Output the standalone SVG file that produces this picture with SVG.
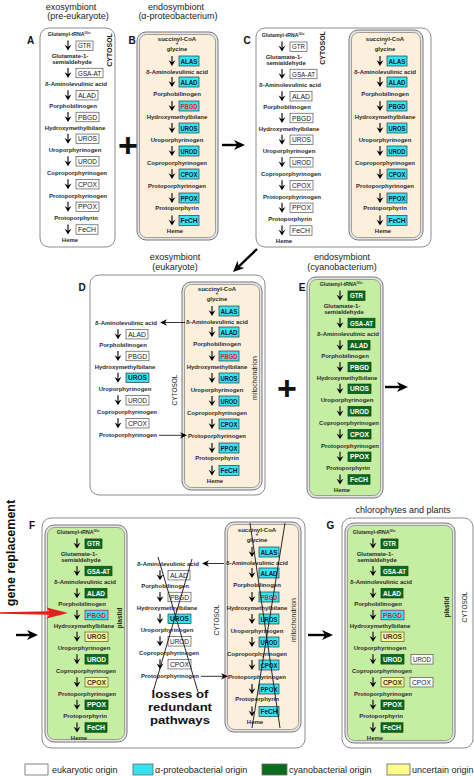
<svg xmlns="http://www.w3.org/2000/svg" width="474" height="776" viewBox="0 0 474 776">
<style>
text{font-family:"Liberation Sans",Arial,sans-serif}
.s{font-size:6px;font-weight:bold;fill:#2b2b2b;text-anchor:middle}
.g5{font-size:5.2px}
.sup{font-size:3.4px}
.pl{font-size:5px}
.e{font-size:7.5px;text-anchor:middle;fill:#1a1a1a}
.W .k{fill:#fff;stroke:#555;stroke-width:.7}
.W .e{fill:#1a1a1a}
.C .k{fill:#35e3ee;stroke:#2a3a40;stroke-width:.7}
.C .e{font-weight:bold;fill:#0c1838}
.G .k{fill:#0b6b20;stroke:#05400f;stroke-width:.7}
.G .e{font-weight:bold;fill:#fff}
rect.k.kc{fill:#35e3ee;stroke:#2a3a40}
text.e.ec{font-weight:bold;fill:#0c1838}
rect.k.kr{fill:#35e3ee;stroke:#b03070;stroke-width:.9}
text.e.er{font-weight:bold;fill:#e31e24}
rect.k.ky{fill:#fcfc8a;stroke:#555}
text.e.ey{font-weight:bold;fill:#333}
rect.k.kw{fill:#fff;stroke:#555}
text.e.ew{font-weight:normal;fill:#1a1a1a}
.panel{fill:#fff;stroke:#8c8c8c;stroke-width:1}
.dbl{fill:#e6e6e6;stroke:#777;stroke-width:1}
.beige{fill:#fcefdc;stroke:#8a8a8a;stroke-width:.8}
.green{fill:#c6eea2;stroke:#8a8a8a;stroke-width:.8}
.title{font-size:9px;text-anchor:middle;fill:#222}
.lbl{font-size:10px;font-weight:bold;text-anchor:middle;fill:#111}
.v{font-size:6.5px;text-anchor:middle;fill:#222}
.vb{font-weight:bold;font-size:7px}
.mt{font-size:7px}
.pd{font-weight:bold;font-size:6.5px}
.leg{font-size:9px;fill:#222}
.big{font-size:11.5px;font-weight:bold;text-anchor:middle;fill:#111}
.gr{font-size:12.5px;font-weight:bold;text-anchor:middle;fill:#111}
.plus{font-size:34px;font-weight:bold;text-anchor:middle;fill:#111}
.ln{stroke:#000;stroke-width:2.4;fill:none}
.lt{stroke:#000;stroke-width:.8;fill:none}
.x{stroke:#111;stroke-width:.9;fill:none}
.lb{stroke:#666;stroke-width:.8}
</style>
<defs>
<g id="va"><path d="M0,0V6" stroke="#000" stroke-width="1.1"/><path d="M-3.4,4.2L0,10L3.4,4.2L0,6.2Z" fill="#000"/></g>
<marker id="bh" viewBox="0 0 12 12" refX="8" refY="6" markerWidth="11" markerHeight="11" markerUnits="userSpaceOnUse" orient="auto"><path d="M0,0.5L12,6L0,11.5L3.5,6Z" fill="#000"/></marker>
<marker id="sh" viewBox="0 0 10 10" refX="7" refY="5" markerWidth="7" markerHeight="7" markerUnits="userSpaceOnUse" orient="auto"><path d="M0,0.5L10,5L0,9.5L3,5Z" fill="#000"/></marker>
</defs>

<g id="panel-A">
<rect class="panel" x="40" y="28" width="75" height="219" rx="9"/>
<text class="lbl" x="30.5" y="44">A</text>
<text class="title" x="71" y="9.5">exosymbiont</text>
<text class="title" x="78" y="19">(pre-eukaryote)</text>
<text class="v vb" transform="translate(111.5,50) rotate(-90)">CYTOSOL</text>
<g class="W">
<text class="s g5" x="69" y="36">Glutamyl-tRNA<tspan class="sup" dy="-2.4">Glu</tspan></text>
<use href="#va" x="68" y="40.5"/><rect class="k" x="76" y="41" width="17" height="9.5"/><text class="e" x="84.5" y="48.4" textLength="13" lengthAdjust="spacingAndGlyphs">GTR</text>
<text class="s" x="70" y="57.5">Glutamate-1-</text>
<text class="s" x="72" y="64">semialdehyde</text>
<use href="#va" x="68" y="68"/><rect class="k" x="76" y="68.25" width="27" height="9.5"/><text class="e" x="89.5" y="75.65" textLength="23" lengthAdjust="spacingAndGlyphs">GSA-AT</text>
<text class="s" x="76" y="86">δ-Aminolevulinic acid</text>
<use href="#va" x="68" y="90.2"/><rect class="k" x="76" y="90.45" width="22" height="9.5"/><text class="e" x="87" y="97.85" textLength="18" lengthAdjust="spacingAndGlyphs">ALAD</text>
<text class="s" x="73" y="108">Porphobilinogen</text>
<use href="#va" x="68" y="112"/><rect class="k" x="76" y="112.25" width="23" height="9.5"/><text class="e" x="87.5" y="119.65" textLength="19" lengthAdjust="spacingAndGlyphs">PBGD</text>
<text class="s" x="75" y="129.5">Hydroxymethylbilane</text>
<use href="#va" x="68" y="133.8"/><rect class="k" x="76" y="134.05" width="23" height="9.5"/><text class="e" x="87.5" y="141.45" textLength="19" lengthAdjust="spacingAndGlyphs">UROS</text>
<text class="s" x="75" y="152">Uroporphyrinogen</text>
<use href="#va" x="68" y="156.3"/><rect class="k" x="76" y="156.55" width="23" height="9.5"/><text class="e" x="87.5" y="163.95" textLength="19" lengthAdjust="spacingAndGlyphs">UROD</text>
<text class="s" x="77" y="174.5">Coproporphyrinogen</text>
<use href="#va" x="68" y="179.2"/><rect class="k" x="76" y="179.45" width="23" height="9.5"/><text class="e" x="87.5" y="186.85" textLength="19" lengthAdjust="spacingAndGlyphs">CPOX</text>
<text class="s" x="78" y="197.5">Protoporphyrinogen</text>
<use href="#va" x="68" y="201.8"/><rect class="k" x="76" y="202.05" width="23" height="9.5"/><text class="e" x="87.5" y="209.45" textLength="19" lengthAdjust="spacingAndGlyphs">PPOX</text>
<text class="s" x="76" y="219.5">Protoporphyrin</text>
<use href="#va" x="68" y="224.5"/><rect class="k" x="76" y="224.75" width="22" height="9.5"/><text class="e" x="87" y="232.15" textLength="18" lengthAdjust="spacingAndGlyphs">FeCH</text>
<text class="s" x="70" y="242">Heme</text>
</g>
</g>

<g id="panel-B">
<rect class="dbl" x="137" y="32" width="81" height="208" rx="9"/>
<rect class="beige" x="139.5" y="34.5" width="76" height="203" rx="7"/>
<text class="lbl" x="132" y="44">B</text>
<text class="title" x="176" y="9.5">endosymbiont</text>
<text class="title" x="178" y="19">(α-proteobacterium)</text>
<g class="C">
<text class="s" x="177" y="40.5">succinyl-CoA</text>
<text class="s pl" x="177" y="45.3">+</text>
<text class="s" x="177" y="50.5">glycine</text>
<use href="#va" x="172" y="56"/><rect class="k" x="179" y="56" width="20" height="10"/><text class="e" x="189" y="63.7" textLength="17" lengthAdjust="spacingAndGlyphs">ALAS</text>
<text class="s" x="177" y="74">δ-Aminolevulinic acid</text>
<use href="#va" x="172" y="77"/><rect class="k" x="179" y="77" width="20" height="10"/><text class="e" x="189" y="84.7" textLength="17" lengthAdjust="spacingAndGlyphs">ALAD</text>
<text class="s" x="177" y="96">Porphobilinogen</text>
<use href="#va" x="172" y="101"/><rect class="k" x="179" y="101" width="20" height="10"/><text class="e er" x="189" y="108.7" textLength="17" lengthAdjust="spacingAndGlyphs">PBGD</text>
<text class="s" x="177" y="119">Hydroxymethylbilane</text>
<use href="#va" x="172" y="123"/><rect class="k" x="179" y="123" width="20" height="10"/><text class="e" x="189" y="130.7" textLength="17" lengthAdjust="spacingAndGlyphs">UROS</text>
<text class="s" x="177" y="141.5">Uroporphyrinogen</text>
<use href="#va" x="172" y="146"/><rect class="k" x="179" y="146" width="20" height="10"/><text class="e" x="189" y="153.7" textLength="17" lengthAdjust="spacingAndGlyphs">UROD</text>
<text class="s" x="177" y="165">Coproporphyrinogen</text>
<use href="#va" x="172" y="169"/><rect class="k" x="179" y="169" width="20" height="10"/><text class="e" x="189" y="176.7" textLength="17" lengthAdjust="spacingAndGlyphs">CPOX</text>
<text class="s" x="177" y="188">Protoporphyrinogen</text>
<use href="#va" x="172" y="193"/><rect class="k" x="179" y="193" width="20" height="10"/><text class="e" x="189" y="200.7" textLength="17" lengthAdjust="spacingAndGlyphs">PPOX</text>
<text class="s" x="177" y="210">Protoporphyrin</text>
<use href="#va" x="172" y="215.5"/><rect class="k" x="179" y="215.5" width="20" height="10"/><text class="e" x="189" y="223.2" textLength="17" lengthAdjust="spacingAndGlyphs">FeCH</text>
<text class="s" x="175" y="233">Heme</text>
</g>
</g>

<g id="panel-C">
<rect class="panel" x="256" y="28" width="175" height="219" rx="9"/>
<text class="lbl" x="247" y="44">C</text>
<text class="v vb" transform="translate(324.5,48) rotate(-90)">CYTOSOL</text>
<g class="W" transform="translate(214,1)">
<text class="s g5" x="69" y="36">Glutamyl-tRNA<tspan class="sup" dy="-2.4">Glu</tspan></text>
<use href="#va" x="68" y="40.5"/><rect class="k" x="76" y="41" width="17" height="9.5"/><text class="e" x="84.5" y="48.4" textLength="13" lengthAdjust="spacingAndGlyphs">GTR</text>
<text class="s" x="70" y="57.5">Glutamate-1-</text>
<text class="s" x="72" y="64">semialdehyde</text>
<use href="#va" x="68" y="68"/><rect class="k" x="76" y="68.25" width="27" height="9.5"/><text class="e" x="89.5" y="75.65" textLength="23" lengthAdjust="spacingAndGlyphs">GSA-AT</text>
<text class="s" x="76" y="86">δ-Aminolevulinic acid</text>
<use href="#va" x="68" y="90.2"/><rect class="k" x="76" y="90.45" width="22" height="9.5"/><text class="e" x="87" y="97.85" textLength="18" lengthAdjust="spacingAndGlyphs">ALAD</text>
<text class="s" x="73" y="108">Porphobilinogen</text>
<use href="#va" x="68" y="112"/><rect class="k" x="76" y="112.25" width="23" height="9.5"/><text class="e" x="87.5" y="119.65" textLength="19" lengthAdjust="spacingAndGlyphs">PBGD</text>
<text class="s" x="75" y="129.5">Hydroxymethylbilane</text>
<use href="#va" x="68" y="133.8"/><rect class="k" x="76" y="134.05" width="23" height="9.5"/><text class="e" x="87.5" y="141.45" textLength="19" lengthAdjust="spacingAndGlyphs">UROS</text>
<text class="s" x="75" y="152">Uroporphyrinogen</text>
<use href="#va" x="68" y="156.3"/><rect class="k" x="76" y="156.55" width="23" height="9.5"/><text class="e" x="87.5" y="163.95" textLength="19" lengthAdjust="spacingAndGlyphs">UROD</text>
<text class="s" x="77" y="174.5">Coproporphyrinogen</text>
<use href="#va" x="68" y="179.2"/><rect class="k" x="76" y="179.45" width="23" height="9.5"/><text class="e" x="87.5" y="186.85" textLength="19" lengthAdjust="spacingAndGlyphs">CPOX</text>
<text class="s" x="78" y="197.5">Protoporphyrinogen</text>
<use href="#va" x="68" y="201.8"/><rect class="k" x="76" y="202.05" width="23" height="9.5"/><text class="e" x="87.5" y="209.45" textLength="19" lengthAdjust="spacingAndGlyphs">PPOX</text>
<text class="s" x="76" y="219.5">Protoporphyrin</text>
<use href="#va" x="68" y="224.5"/><rect class="k" x="76" y="224.75" width="22" height="9.5"/><text class="e" x="87" y="232.15" textLength="18" lengthAdjust="spacingAndGlyphs">FeCH</text>
<text class="s" x="70" y="242">Heme</text>
</g>
<rect class="dbl" x="349" y="30" width="74" height="210" rx="9"/>
<rect class="beige" x="351.5" y="32.5" width="69" height="205" rx="7"/>
<g class="C" transform="translate(208,0)">
<text class="s" x="177" y="40.5">succinyl-CoA</text>
<text class="s pl" x="177" y="45.3">+</text>
<text class="s" x="177" y="50.5">glycine</text>
<use href="#va" x="172" y="56"/><rect class="k" x="179" y="56" width="20" height="10"/><text class="e" x="189" y="63.7" textLength="17" lengthAdjust="spacingAndGlyphs">ALAS</text>
<text class="s" x="177" y="74">δ-Aminolevulinic acid</text>
<use href="#va" x="172" y="77"/><rect class="k" x="179" y="77" width="20" height="10"/><text class="e" x="189" y="84.7" textLength="17" lengthAdjust="spacingAndGlyphs">ALAD</text>
<text class="s" x="177" y="96">Porphobilinogen</text>
<use href="#va" x="172" y="101"/><rect class="k" x="179" y="101" width="20" height="10"/><text class="e" x="189" y="108.7" textLength="17" lengthAdjust="spacingAndGlyphs">PBGD</text>
<text class="s" x="177" y="119">Hydroxymethylbilane</text>
<use href="#va" x="172" y="123"/><rect class="k" x="179" y="123" width="20" height="10"/><text class="e" x="189" y="130.7" textLength="17" lengthAdjust="spacingAndGlyphs">UROS</text>
<text class="s" x="177" y="141.5">Uroporphyrinogen</text>
<use href="#va" x="172" y="146"/><rect class="k" x="179" y="146" width="20" height="10"/><text class="e" x="189" y="153.7" textLength="17" lengthAdjust="spacingAndGlyphs">UROD</text>
<text class="s" x="177" y="165">Coproporphyrinogen</text>
<use href="#va" x="172" y="169"/><rect class="k" x="179" y="169" width="20" height="10"/><text class="e" x="189" y="176.7" textLength="17" lengthAdjust="spacingAndGlyphs">CPOX</text>
<text class="s" x="177" y="188">Protoporphyrinogen</text>
<use href="#va" x="172" y="193"/><rect class="k" x="179" y="193" width="20" height="10"/><text class="e" x="189" y="200.7" textLength="17" lengthAdjust="spacingAndGlyphs">PPOX</text>
<text class="s" x="177" y="210">Protoporphyrin</text>
<use href="#va" x="172" y="215.5"/><rect class="k" x="179" y="215.5" width="20" height="10"/><text class="e" x="189" y="223.2" textLength="17" lengthAdjust="spacingAndGlyphs">FeCH</text>
<text class="s" x="175" y="233">Heme</text>
</g>
</g>

<g id="panel-D">
<rect class="panel" x="90" y="275" width="175" height="220" rx="9"/>
<text class="lbl" x="82" y="291">D</text>
<text class="title" x="175" y="260">exosymbiont</text>
<text class="title" x="175" y="270">(eukaryote)</text>
<text class="v" transform="translate(177.3,390) rotate(-90)">CYTOSOL</text>
<g class="W" transform="translate(50,239)">
<text class="s" x="76" y="86">δ-Aminolevulinic acid</text>
<use href="#va" x="68" y="90.2"/><rect class="k" x="76" y="90.45" width="22" height="9.5"/><text class="e" x="87" y="97.85" textLength="18" lengthAdjust="spacingAndGlyphs">ALAD</text>
<text class="s" x="73" y="108">Porphobilinogen</text>
<use href="#va" x="68" y="112"/><rect class="k" x="76" y="112.25" width="23" height="9.5"/><text class="e" x="87.5" y="119.65" textLength="19" lengthAdjust="spacingAndGlyphs">PBGD</text>
<text class="s" x="75" y="129.5">Hydroxymethylbilane</text>
<use href="#va" x="68" y="133.8"/><rect class="k kc" x="76" y="134.05" width="23" height="9.5"/><text class="e ec" x="87.5" y="141.45" textLength="19" lengthAdjust="spacingAndGlyphs">UROS</text>
<text class="s" x="75" y="152">Uroporphyrinogen</text>
<use href="#va" x="68" y="156.3"/><rect class="k" x="76" y="156.55" width="23" height="9.5"/><text class="e" x="87.5" y="163.95" textLength="19" lengthAdjust="spacingAndGlyphs">UROD</text>
<text class="s" x="77" y="174.5">Coproporphyrinogen</text>
<use href="#va" x="68" y="179.2"/><rect class="k" x="76" y="179.45" width="23" height="9.5"/><text class="e" x="87.5" y="186.85" textLength="19" lengthAdjust="spacingAndGlyphs">CPOX</text>
<text class="s" x="78" y="197.5">Protoporphyrinogen</text>
</g>
<rect class="dbl" x="182" y="282" width="80" height="208" rx="9"/>
<rect class="beige" x="184.5" y="284.5" width="75" height="203" rx="7"/>
<text class="v mt" transform="translate(257,378) rotate(-90)">mitochondrion</text>
<g class="C" transform="translate(40,250)">
<text class="s" x="177" y="40.5">succinyl-CoA</text>
<text class="s pl" x="177" y="45.3">+</text>
<text class="s" x="177" y="50.5">glycine</text>
<use href="#va" x="172" y="56"/><rect class="k" x="179" y="56" width="20" height="10"/><text class="e" x="189" y="63.7" textLength="17" lengthAdjust="spacingAndGlyphs">ALAS</text>
<text class="s" x="177" y="74">δ-Aminolevulinic acid</text>
<use href="#va" x="172" y="77"/><rect class="k" x="179" y="77" width="20" height="10"/><text class="e" x="189" y="84.7" textLength="17" lengthAdjust="spacingAndGlyphs">ALAD</text>
<text class="s" x="177" y="96">Porphobilinogen</text>
<use href="#va" x="172" y="101"/><rect class="k" x="179" y="101" width="20" height="10"/><text class="e er" x="189" y="108.7" textLength="17" lengthAdjust="spacingAndGlyphs">PBGD</text>
<text class="s" x="177" y="119">Hydroxymethylbilane</text>
<use href="#va" x="172" y="123"/><rect class="k" x="179" y="123" width="20" height="10"/><text class="e" x="189" y="130.7" textLength="17" lengthAdjust="spacingAndGlyphs">UROS</text>
<text class="s" x="177" y="141.5">Uroporphyrinogen</text>
<use href="#va" x="172" y="146"/><rect class="k" x="179" y="146" width="20" height="10"/><text class="e" x="189" y="153.7" textLength="17" lengthAdjust="spacingAndGlyphs">UROD</text>
<text class="s" x="177" y="165">Coproporphyrinogen</text>
<use href="#va" x="172" y="169"/><rect class="k" x="179" y="169" width="20" height="10"/><text class="e" x="189" y="176.7" textLength="17" lengthAdjust="spacingAndGlyphs">CPOX</text>
<text class="s" x="177" y="188">Protoporphyrinogen</text>
<use href="#va" x="172" y="193"/><rect class="k" x="179" y="193" width="20" height="10"/><text class="e" x="189" y="200.7" textLength="17" lengthAdjust="spacingAndGlyphs">PPOX</text>
<text class="s" x="177" y="210">Protoporphyrin</text>
<use href="#va" x="172" y="215.5"/><rect class="k" x="179" y="215.5" width="20" height="10"/><text class="e" x="189" y="223.2" textLength="17" lengthAdjust="spacingAndGlyphs">FeCH</text>
<text class="s" x="175" y="233">Heme</text>
</g>
</g>

<g id="panel-E">
<rect class="dbl" x="307" y="277" width="76" height="221" rx="9"/>
<rect class="green" x="309.5" y="279.5" width="71" height="216" rx="7"/>
<text class="lbl" x="302" y="291">E</text>
<text class="title" x="342" y="260">endosymbiont</text>
<text class="title" x="342" y="270">(cyanobacterium)</text>
<g class="G" transform="translate(272,250)">
<text class="s g5" x="69" y="36">Glutamyl-tRNA<tspan class="sup" dy="-2.4">Glu</tspan></text>
<use href="#va" x="68" y="40.5"/><rect class="k" x="76" y="41" width="17" height="9.5"/><text class="e" x="84.5" y="48.4" textLength="13" lengthAdjust="spacingAndGlyphs">GTR</text>
<text class="s" x="70" y="57.5">Glutamate-1-</text>
<text class="s" x="72" y="64">semialdehyde</text>
<use href="#va" x="68" y="68"/><rect class="k" x="76" y="68.25" width="27" height="9.5"/><text class="e" x="89.5" y="75.65" textLength="23" lengthAdjust="spacingAndGlyphs">GSA-AT</text>
<text class="s" x="76" y="86">δ-Aminolevulinic acid</text>
<use href="#va" x="68" y="90.2"/><rect class="k" x="76" y="90.45" width="22" height="9.5"/><text class="e" x="87" y="97.85" textLength="18" lengthAdjust="spacingAndGlyphs">ALAD</text>
<text class="s" x="73" y="108">Porphobilinogen</text>
<use href="#va" x="68" y="112"/><rect class="k" x="76" y="112.25" width="23" height="9.5"/><text class="e" x="87.5" y="119.65" textLength="19" lengthAdjust="spacingAndGlyphs">PBGD</text>
<text class="s" x="75" y="129.5">Hydroxymethylbilane</text>
<use href="#va" x="68" y="133.8"/><rect class="k" x="76" y="134.05" width="23" height="9.5"/><text class="e" x="87.5" y="141.45" textLength="19" lengthAdjust="spacingAndGlyphs">UROS</text>
<text class="s" x="75" y="152">Uroporphyrinogen</text>
<use href="#va" x="68" y="156.3"/><rect class="k" x="76" y="156.55" width="23" height="9.5"/><text class="e" x="87.5" y="163.95" textLength="19" lengthAdjust="spacingAndGlyphs">UROD</text>
<text class="s" x="77" y="174.5">Coproporphyrinogen</text>
<use href="#va" x="68" y="179.2"/><rect class="k" x="76" y="179.45" width="23" height="9.5"/><text class="e" x="87.5" y="186.85" textLength="19" lengthAdjust="spacingAndGlyphs">CPOX</text>
<text class="s" x="78" y="197.5">Protoporphyrinogen</text>
<use href="#va" x="68" y="201.8"/><rect class="k" x="76" y="202.05" width="23" height="9.5"/><text class="e" x="87.5" y="209.45" textLength="19" lengthAdjust="spacingAndGlyphs">PPOX</text>
<text class="s" x="76" y="219.5">Protoporphyrin</text>
<use href="#va" x="68" y="224.5"/><rect class="k" x="76" y="224.75" width="22" height="9.5"/><text class="e" x="87" y="232.15" textLength="18" lengthAdjust="spacingAndGlyphs">FeCH</text>
<text class="s" x="70" y="242">Heme</text>
</g>
</g>

<g id="panel-F">
<rect class="panel" x="42" y="518" width="263" height="230" rx="9"/>
<text class="lbl" x="32" y="529">F</text>
<rect class="dbl" x="45" y="525" width="82" height="217" rx="9"/>
<rect class="green" x="47.5" y="527.5" width="77" height="212" rx="7"/>
<text class="v pd" transform="translate(122.3,618) rotate(-90)">plastid</text>
<g class="G" transform="translate(9,498)">
<text class="s g5" x="69" y="36">Glutamyl-tRNA<tspan class="sup" dy="-2.4">Glu</tspan></text>
<use href="#va" x="68" y="40.5"/><rect class="k" x="76" y="41" width="17" height="9.5"/><text class="e" x="84.5" y="48.4" textLength="13" lengthAdjust="spacingAndGlyphs">GTR</text>
<text class="s" x="70" y="57.5">Glutamate-1-</text>
<text class="s" x="72" y="64">semialdehyde</text>
<use href="#va" x="68" y="68"/><rect class="k" x="76" y="68.25" width="27" height="9.5"/><text class="e" x="89.5" y="75.65" textLength="23" lengthAdjust="spacingAndGlyphs">GSA-AT</text>
<text class="s" x="76" y="86">δ-Aminolevulinic acid</text>
<use href="#va" x="68" y="90.2"/><rect class="k" x="76" y="90.45" width="22" height="9.5"/><text class="e" x="87" y="97.85" textLength="18" lengthAdjust="spacingAndGlyphs">ALAD</text>
<text class="s" x="73" y="108">Porphobilinogen</text>
<use href="#va" x="68" y="112"/><rect class="k kr" x="76" y="112.25" width="23" height="9.5"/><text class="e er" x="87.5" y="119.65" textLength="19" lengthAdjust="spacingAndGlyphs">PBGD</text>
<text class="s" x="75" y="129.5">Hydroxymethylbilane</text>
<use href="#va" x="68" y="133.8"/><rect class="k ky" x="76" y="134.05" width="23" height="9.5"/><text class="e ey" x="87.5" y="141.45" textLength="19" lengthAdjust="spacingAndGlyphs">UROS</text>
<text class="s" x="75" y="152">Uroporphyrinogen</text>
<use href="#va" x="68" y="156.3"/><rect class="k" x="76" y="156.55" width="23" height="9.5"/><text class="e" x="87.5" y="163.95" textLength="19" lengthAdjust="spacingAndGlyphs">UROD</text>
<text class="s" x="77" y="174.5">Coproporphyrinogen</text>
<use href="#va" x="68" y="179.2"/><rect class="k ky" x="76" y="179.45" width="23" height="9.5"/><text class="e ey" x="87.5" y="186.85" textLength="19" lengthAdjust="spacingAndGlyphs">CPOX</text>
<text class="s" x="78" y="197.5">Protoporphyrinogen</text>
<use href="#va" x="68" y="201.8"/><rect class="k" x="76" y="202.05" width="23" height="9.5"/><text class="e" x="87.5" y="209.45" textLength="19" lengthAdjust="spacingAndGlyphs">PPOX</text>
<text class="s" x="76" y="219.5">Protoporphyrin</text>
<use href="#va" x="68" y="224.5"/><rect class="k" x="76" y="224.75" width="22" height="9.5"/><text class="e" x="87" y="232.15" textLength="18" lengthAdjust="spacingAndGlyphs">FeCH</text>
<text class="s" x="70" y="242">Heme</text>
</g>
<text class="v" transform="translate(219.3,620) rotate(-90)">CYTOSOL</text>
<g class="W" transform="translate(92,480)">
<text class="s" x="76" y="86">δ-Aminolevulinic acid</text>
<use href="#va" x="68" y="90.2"/><rect class="k" x="76" y="90.45" width="22" height="9.5"/><text class="e" x="87" y="97.85" textLength="18" lengthAdjust="spacingAndGlyphs">ALAD</text>
<text class="s" x="73" y="108">Porphobilinogen</text>
<use href="#va" x="68" y="112"/><rect class="k" x="76" y="112.25" width="23" height="9.5"/><text class="e" x="87.5" y="119.65" textLength="19" lengthAdjust="spacingAndGlyphs">PBGD</text>
<text class="s" x="75" y="129.5">Hydroxymethylbilane</text>
<use href="#va" x="68" y="133.8"/><rect class="k kc" x="76" y="134.05" width="23" height="9.5"/><text class="e ec" x="87.5" y="141.45" textLength="19" lengthAdjust="spacingAndGlyphs">UROS</text>
<text class="s" x="75" y="152">Uroporphyrinogen</text>
<use href="#va" x="68" y="156.3"/><rect class="k" x="76" y="156.55" width="23" height="9.5"/><text class="e" x="87.5" y="163.95" textLength="19" lengthAdjust="spacingAndGlyphs">UROD</text>
<text class="s" x="77" y="174.5">Coproporphyrinogen</text>
<use href="#va" x="68" y="179.2"/><rect class="k" x="76" y="179.45" width="23" height="9.5"/><text class="e" x="87.5" y="186.85" textLength="19" lengthAdjust="spacingAndGlyphs">CPOX</text>
<text class="s" x="78" y="197.5">Protoporphyrinogen</text>
</g>
<path class="x" d="M158,557L198,692M192,559L153,692"/>
<text class="big" x="180" y="698" textLength="57" lengthAdjust="spacingAndGlyphs">losses of</text>
<text class="big" x="180" y="711.2" textLength="64" lengthAdjust="spacingAndGlyphs">redundant</text>
<text class="big" x="180" y="724.4" textLength="60" lengthAdjust="spacingAndGlyphs">pathways</text>
<rect class="dbl" x="225" y="522" width="76" height="210" rx="9"/>
<rect class="beige" x="227.5" y="524.5" width="71" height="205" rx="7"/>
<text class="v mt" transform="translate(296,620) rotate(-90)">mitochondrion</text>
<g class="C" transform="translate(80,491)">
<text class="s" x="177" y="40.5">succinyl-CoA</text>
<text class="s pl" x="177" y="45.3">+</text>
<text class="s" x="177" y="50.5">glycine</text>
<use href="#va" x="172" y="56"/><rect class="k" x="179" y="56" width="20" height="10"/><text class="e" x="189" y="63.7" textLength="17" lengthAdjust="spacingAndGlyphs">ALAS</text>
<text class="s" x="177" y="74">δ-Aminolevulinic acid</text>
<use href="#va" x="172" y="77"/><rect class="k" x="179" y="77" width="20" height="10"/><text class="e" x="189" y="84.7" textLength="17" lengthAdjust="spacingAndGlyphs">ALAD</text>
<text class="s" x="177" y="96">Porphobilinogen</text>
<use href="#va" x="172" y="101"/><rect class="k" x="179" y="101" width="20" height="10"/><text class="e er" x="189" y="108.7" textLength="17" lengthAdjust="spacingAndGlyphs">PBGD</text>
<text class="s" x="177" y="119">Hydroxymethylbilane</text>
<use href="#va" x="172" y="123"/><rect class="k" x="179" y="123" width="20" height="10"/><text class="e" x="189" y="130.7" textLength="17" lengthAdjust="spacingAndGlyphs">UROS</text>
<text class="s" x="177" y="141.5">Uroporphyrinogen</text>
<use href="#va" x="172" y="146"/><rect class="k" x="179" y="146" width="20" height="10"/><text class="e" x="189" y="153.7" textLength="17" lengthAdjust="spacingAndGlyphs">UROD</text>
<text class="s" x="177" y="165">Coproporphyrinogen</text>
<use href="#va" x="172" y="169"/><rect class="k" x="179" y="169" width="20" height="10"/><text class="e" x="189" y="176.7" textLength="17" lengthAdjust="spacingAndGlyphs">CPOX</text>
<text class="s" x="177" y="188">Protoporphyrinogen</text>
<use href="#va" x="172" y="193"/><rect class="k" x="179" y="193" width="20" height="10"/><text class="e" x="189" y="200.7" textLength="17" lengthAdjust="spacingAndGlyphs">PPOX</text>
<text class="s" x="177" y="210">Protoporphyrin</text>
<use href="#va" x="172" y="215.5"/><rect class="k" x="179" y="215.5" width="20" height="10"/><text class="e" x="189" y="223.2" textLength="17" lengthAdjust="spacingAndGlyphs">FeCH</text>
<text class="s" x="175" y="233">Heme</text>
</g>
<path class="x" d="M250,523L280,728M285,523L252,728"/>
</g>

<g id="panel-G">
<rect class="panel" x="342" y="518" width="131" height="230" rx="9"/>
<text class="lbl" x="330.5" y="529">G</text>
<text class="title" x="403" y="513">chlorophytes and plants</text>
<rect class="dbl" x="345" y="523" width="110" height="220" rx="9"/>
<rect class="green" x="347.5" y="525.5" width="105" height="215" rx="7"/>
<text class="v pd" transform="translate(449.3,607) rotate(-90)">plastid</text>
<text class="v" transform="translate(467.3,607) rotate(-90)">CYTOSOL</text>
<g class="G" transform="translate(305,498)">
<text class="s g5" x="69" y="36">Glutamyl-tRNA<tspan class="sup" dy="-2.4">Glu</tspan></text>
<use href="#va" x="68" y="40.5"/><rect class="k" x="76" y="41" width="17" height="9.5"/><text class="e" x="84.5" y="48.4" textLength="13" lengthAdjust="spacingAndGlyphs">GTR</text>
<text class="s" x="70" y="57.5">Glutamate-1-</text>
<text class="s" x="72" y="64">semialdehyde</text>
<use href="#va" x="68" y="68"/><rect class="k" x="76" y="68.25" width="27" height="9.5"/><text class="e" x="89.5" y="75.65" textLength="23" lengthAdjust="spacingAndGlyphs">GSA-AT</text>
<text class="s" x="76" y="86">δ-Aminolevulinic acid</text>
<use href="#va" x="68" y="90.2"/><rect class="k" x="76" y="90.45" width="22" height="9.5"/><text class="e" x="87" y="97.85" textLength="18" lengthAdjust="spacingAndGlyphs">ALAD</text>
<text class="s" x="73" y="108">Porphobilinogen</text>
<use href="#va" x="68" y="112"/><rect class="k kr" x="76" y="112.25" width="23" height="9.5"/><text class="e er" x="87.5" y="119.65" textLength="19" lengthAdjust="spacingAndGlyphs">PBGD</text>
<text class="s" x="75" y="129.5">Hydroxymethylbilane</text>
<use href="#va" x="68" y="133.8"/><rect class="k ky" x="76" y="134.05" width="23" height="9.5"/><text class="e ey" x="87.5" y="141.45" textLength="19" lengthAdjust="spacingAndGlyphs">UROS</text>
<text class="s" x="75" y="152">Uroporphyrinogen</text>
<use href="#va" x="68" y="156.3"/><rect class="k" x="76" y="156.55" width="23" height="9.5"/><text class="e" x="87.5" y="163.95" textLength="19" lengthAdjust="spacingAndGlyphs">UROD</text>
<rect class="k kw" x="106" y="156.55" width="22" height="9.5"/><text class="e ew" x="117" y="163.95" textLength="18" lengthAdjust="spacingAndGlyphs">UROD</text>
<text class="s" x="77" y="174.5">Coproporphyrinogen</text>
<use href="#va" x="68" y="179.2"/><rect class="k ky" x="76" y="179.45" width="23" height="9.5"/><text class="e ey" x="87.5" y="186.85" textLength="19" lengthAdjust="spacingAndGlyphs">CPOX</text>
<rect class="k kw" x="105" y="179.45" width="23" height="9.5"/><text class="e ew" x="116.5" y="186.85" textLength="19" lengthAdjust="spacingAndGlyphs">CPOX</text>
<text class="s" x="78" y="197.5">Protoporphyrinogen</text>
<use href="#va" x="68" y="201.8"/><rect class="k" x="76" y="202.05" width="23" height="9.5"/><text class="e" x="87.5" y="209.45" textLength="19" lengthAdjust="spacingAndGlyphs">PPOX</text>
<text class="s" x="76" y="219.5">Protoporphyrin</text>
<use href="#va" x="68" y="224.5"/><rect class="k" x="76" y="224.75" width="22" height="9.5"/><text class="e" x="87" y="232.15" textLength="18" lengthAdjust="spacingAndGlyphs">FeCH</text>
<text class="s" x="70" y="242">Heme</text>
</g>
</g>

<g id="operators">
<text class="plus" x="128" y="157">+</text>
<text class="plus" x="287" y="400">+</text>
<text class="gr" transform="translate(14.6,553) rotate(-90)">gene replacement</text>
</g>

<g id="connectors">
<line class="ln" x1="222" y1="145" x2="241.3" y2="145" marker-end="url(#bh)"/>
<line class="ln" x1="257" y1="249" x2="235.7" y2="269.5" marker-end="url(#bh)"/>
<line class="ln" x1="385" y1="387" x2="404.3" y2="387" marker-end="url(#bh)"/>
<line class="ln" x1="16" y1="635" x2="34.3" y2="635" marker-end="url(#bh)"/>
<line class="ln" x1="308" y1="635" x2="329.3" y2="635" marker-end="url(#bh)"/>
<polygon points="0,612.2 49,611.3 46.5,607.6 68,613 46.5,618.4 49,614.7 0,613.8" fill="#e3201c"/>
<line class="lt" x1="185" y1="322.5" x2="162.1" y2="322.5" marker-end="url(#sh)"/>
<line class="lt" x1="159" y1="435.3" x2="184.9" y2="435.3" marker-end="url(#sh)"/>
<line class="lt" x1="224" y1="563.5" x2="204.1" y2="563.5" marker-end="url(#sh)"/>
<line class="lt" x1="201" y1="676.3" x2="225.9" y2="676.3" marker-end="url(#sh)"/>
</g>

<g id="legend">
<rect class="lb" x="25" y="764" width="23" height="11" fill="#fff"/>
<text class="leg" x="52" y="773">eukaryotic origin</text>
<rect class="lb" x="133" y="764" width="20" height="11" fill="#35e3ee"/>
<text class="leg" x="155" y="773">α-proteobacterial origin</text>
<rect class="lb" x="262" y="764" width="25" height="11" fill="#0b6b20"/>
<text class="leg" x="289" y="773">cyanobacterial origin</text>
<rect class="lb" x="387" y="764" width="23" height="11" fill="#fcfc8a"/>
<text class="leg" x="412" y="773">uncertain origin</text>
</g>
</svg>
